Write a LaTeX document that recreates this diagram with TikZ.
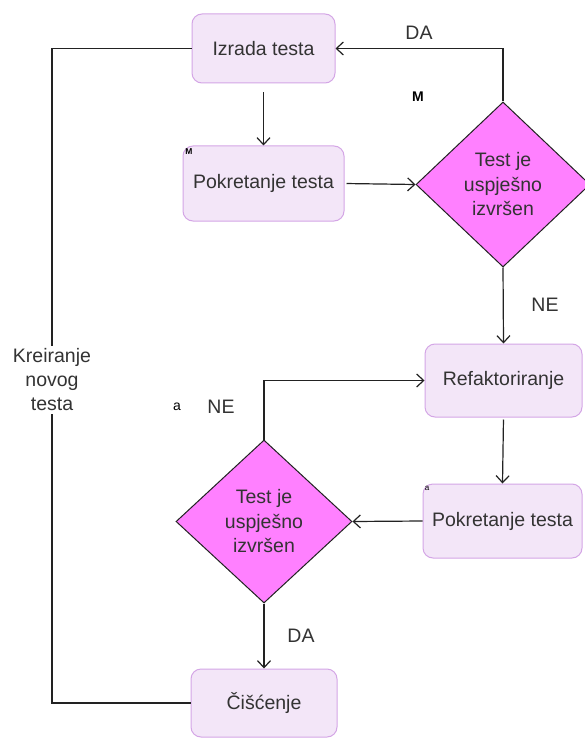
\documentclass[tikz,border=0pt]{standalone}
\usepackage{fontspec}
\setmainfont{Liberation Sans}
\usetikzlibrary{arrows.meta,shapes.geometric}
\definecolor{boxfill}{HTML}{F3E6F8}
\definecolor{boxline}{HTML}{D4A6E6}
\definecolor{dfill}{HTML}{FF80FF}
\definecolor{txt}{HTML}{333333}
\definecolor{ln}{HTML}{222222}
\tikzset{
  stepbox/.style={draw=boxline, fill=boxfill, rounded corners=10pt, line width=1pt,
    text=txt, font=\fontsize{19.5}{24}\selectfont, inner sep=0pt},
  decision/.style={shape=diamond, draw=ln, fill=dfill, line width=1pt, inner sep=0pt,
    text=txt, align=center, font=\fontsize{19.5}{24.5}\selectfont},
  conn/.style={draw=ln, line width=1.2pt, -{Straight Barb[length=7pt,width=13pt]}},
  plain/.style={draw=ln, line width=1.2pt},
  lbl/.style={text=txt, font=\fontsize{19.5}{24}\selectfont, inner sep=0pt, align=center}
}
\begin{document}
\begin{tikzpicture}[x=1pt,y=-1pt]
\useasboundingbox[fill=white] (0,0) rectangle (585,738);

\node[stepbox, minimum width=143pt, minimum height=69pt] (izrada) at (263.5,48.5) {Izrada testa};
\node[stepbox, minimum width=161pt, minimum height=75pt] (pok1) at (263.5,183.5) {Pokretanje testa};
\node[stepbox, minimum width=157pt, minimum height=73pt] (ref) at (503.5,380.5) {Refaktoriranje};
\node[stepbox, minimum width=159pt, minimum height=74pt] (pok2) at (502.5,521) {Pokretanje testa};
\node[stepbox, minimum width=146pt, minimum height=68pt] (cis) at (264,703) {Čišćenje};

\node[decision, minimum width=174pt, minimum height=165pt] (d1) at (503,184.5) {Test je\\uspješno\\izvršen};
\node[decision, minimum width=176pt, minimum height=163pt] (d2) at (264,521.5) {Test je\\uspješno\\izvršen};

\coordinate (kc) at (52,380);

\draw[conn, shorten <=9pt] (izrada.south) -- (pok1.north);
\draw[conn, shorten <=2pt] (pok1.east) -- (d1.west);
\draw[conn] (d1.north) |- (izrada.east);
\draw[conn] (d1.south) -- (ref.north);
\draw[conn, shorten <=2pt] (ref.south) -- (pok2.north);
\draw[conn] (pok2.west) -- (d2.east);
\draw[conn] (d2.north) |- (ref.west);
\draw[conn] (d2.south) -- (cis.north);
\draw[plain] (cis.west) -| (kc) |- (izrada.west);

\node[lbl, fill=white, inner sep=3pt] (kreir) at (kc) {Kreiranje\\novog\\testa};
\node[lbl] (da1) at (419,33) {DA};
\node[lbl] (ne1) at (545,305) {NE};
\node[lbl] (ne2) at (221,407) {NE};
\node[lbl] (da2) at (301,636) {DA};

\node[text=black, font=\fontsize{14}{14}\bfseries\selectfont, inner sep=0pt] (m1) at (418,97) {M};
\node[text=black, font=\fontsize{8.5}{8.5}\bfseries\selectfont, inner sep=0pt] (m2) at (189,152) {M};
\node[text=black, font=\fontsize{14}{14}\selectfont, inner sep=0pt] (a1) at (177,407) {a};
\node[text=black, font=\fontsize{8}{8}\selectfont, inner sep=0pt] (a2) at (427,488) {a};
\end{tikzpicture}
\end{document}
